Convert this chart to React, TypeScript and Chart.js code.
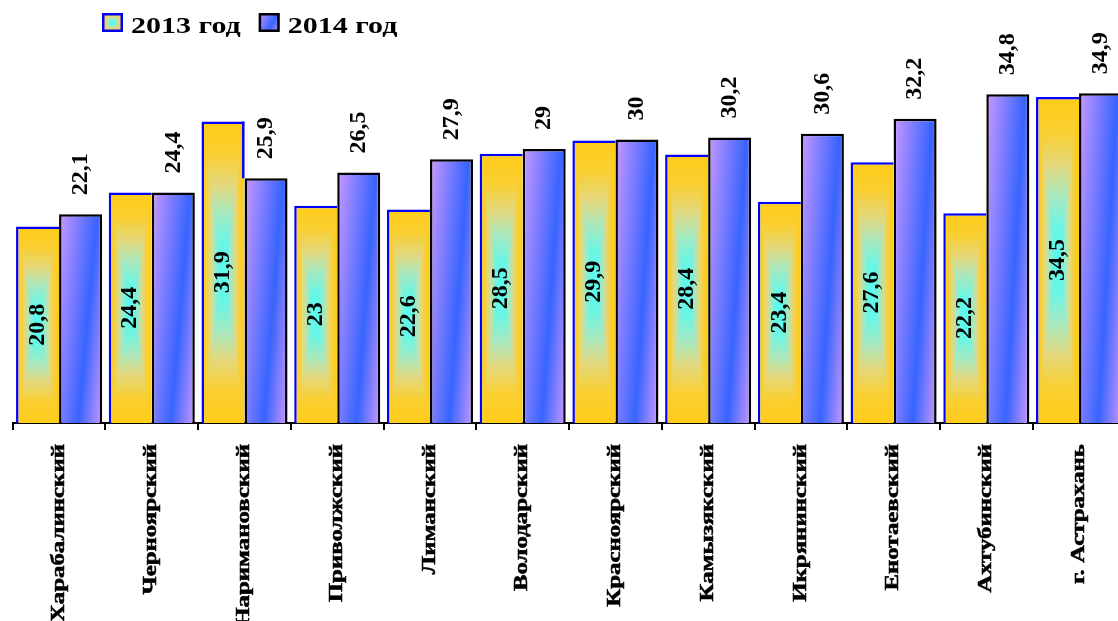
import { useEffect, useRef } from 'react';
import { Chart, registerables } from 'chart.js';

Chart.register(...registerables);

const categories = [
  'Харабалинский',
  'Черноярский',
  'Наримановский',
  'Приволжский',
  'Лиманский',
  'Володарский',
  'Красноярский',
  'Камызякский',
  'Икрянинский',
  'Енотаевский',
  'Ахтубинский',
  'г. Астрахань',
];
const values2013 = [20.8, 24.4, 31.9, 23, 22.6, 28.5, 29.9, 28.4, 23.4, 27.6, 22.2, 34.5];
const values2014 = [22.1, 24.4, 25.9, 26.5, 27.9, 29, 30, 30.2, 30.6, 32.2, 34.8, 34.9];
const seriesNames = ['2013 год', '2014 год'];

const FAMILY = "'Liberation Serif', 'Times New Roman', serif";
const CAT_PCT = 0.928;
const BORDER_2013 = '#0000FF';

type RGB = [number, number, number];
const STOPS_2013: Array<[number, RGB]> = [
  [0, [90, 250, 240]],
  [0.2, [105, 246, 230]],
  [0.4, [170, 232, 190]],
  [0.58, [228, 216, 125]],
  [0.78, [250, 207, 50]],
  [1, [255, 204, 25]],
];
const PURPLE = 'rgb(202,152,255)';
const BLUE = 'rgb(55,100,255)';

function interp(t: number): RGB {
  for (let i = 1; i < STOPS_2013.length; i++) {
    const [t1, c1] = STOPS_2013[i];
    const [t0, c0] = STOPS_2013[i - 1];
    if (t <= t1) {
      const f = (t - t0) / (t1 - t0 || 1);
      return [c0[0] + (c1[0] - c0[0]) * f, c0[1] + (c1[1] - c0[1]) * f, c0[2] + (c1[2] - c0[2]) * f];
    }
  }
  return STOPS_2013[STOPS_2013.length - 1][1];
}

const rectCache: Record<string, HTMLCanvasElement> = {};
function rectGradient(w: number, h: number): HTMLCanvasElement {
  const W = Math.max(2, Math.round(w));
  const H = Math.max(2, Math.round(h));
  const key = W + 'x' + H;
  if (rectCache[key]) return rectCache[key];
  const c = document.createElement('canvas');
  c.width = W;
  c.height = H;
  const g = c.getContext('2d')!;
  const img = g.createImageData(W, H);
  for (let y = 0; y < H; y++) {
    for (let x = 0; x < W; x++) {
      const nx = Math.abs(x + 0.5 - W / 2) / (W / 2);
      const ny = Math.abs(y + 0.5 - H / 2) / (H / 2);
      const col = interp(Math.max(nx, ny));
      const k = (y * W + x) * 4;
      img.data[k] = col[0];
      img.data[k + 1] = col[1];
      img.data[k + 2] = col[2];
      img.data[k + 3] = 255;
    }
  }
  g.putImageData(img, 0, 0);
  rectCache[key] = c;
  return c;
}

function rectPattern(ctx: CanvasRenderingContext2D, left: number, top: number, w: number, h: number) {
  const src = rectGradient(w, h);
  const pat = ctx.createPattern(src, 'repeat')!;
  pat.setTransform(new DOMMatrix([w / src.width, 0, 0, h / src.height, left, top]));
  return pat;
}

function slantGradient(ctx: CanvasRenderingContext2D, left: number, top: number, w: number, h: number) {
  // isoline of blue runs from (0.9w, top) to (0.45w, bottom)
  const gx = 1 / w / 1.45;
  const gy = 0.45 / h / 1.45;
  const n2 = gx * gx + gy * gy;
  const grad = ctx.createLinearGradient(left, top, left + gx / n2, top + gy / n2);
  grad.addColorStop(0, PURPLE);
  grad.addColorStop(0.62, BLUE);
  grad.addColorStop(1, PURPLE);
  return grad;
}

function barGeom(c: any, which: number) {
  const chart = c.chart;
  const xs = chart.scales.x;
  const ys = chart.scales.y;
  if (!xs || !ys || !chart.chartArea || c.type !== 'data') return null;
  const cx = xs.getPixelForValue(c.dataIndex);
  const catW = xs.getPixelForValue(1) - xs.getPixelForValue(0);
  const w = (catW * CAT_PCT) / 2;
  const left = which === 0 ? cx - w : cx;
  const top = ys.getPixelForValue(c.raw);
  const base = ys.getPixelForValue(0);
  if (!isFinite(top) || !isFinite(base) || !isFinite(w) || w < 2 || base - top < 1) return null;
  return { left, top, w, h: base - top };
}

const fmt = (v: number) => String(v).replace('.', ',');

function drawRot(
  ctx: CanvasRenderingContext2D,
  text: string,
  x: number,
  y: number,
  align: CanvasTextAlign,
  font: string,
  stretch: number,
  thicken = 0
) {
  ctx.save();
  ctx.translate(x, y);
  ctx.rotate(-Math.PI / 2);
  ctx.scale(stretch, 1);
  ctx.font = font;
  ctx.fillStyle = '#000';
  ctx.textAlign = align;
  ctx.textBaseline = 'middle';
  ctx.fillText(text, 0, 0);
  if (thicken > 0) {
    ctx.lineWidth = thicken;
    ctx.strokeStyle = '#000';
    ctx.strokeText(text, 0, 0);
  }
  ctx.restore();
}

const labelPlugin = {
  id: 'customLabels',
  afterDatasetsDraw(chart: any) {
    const ctx: CanvasRenderingContext2D = chart.ctx;
    const valFont = `bold 24px ${FAMILY}`;
    const m0 = chart.getDatasetMeta(0);
    const m1 = chart.getDatasetMeta(1);
    // exposed right edge of 2013 bars (above the neighbouring 2014 bar)
    m0.data.forEach((el: any, i: number) => {
      const other = m1.data[i];
      if (other && el.y < other.y) {
        ctx.save();
        ctx.strokeStyle = BORDER_2013;
        ctx.lineWidth = 2.5;
        const xr = el.x + el.width / 2 - 1.25;
        ctx.beginPath();
        ctx.moveTo(xr, el.y);
        ctx.lineTo(xr, other.y);
        ctx.stroke();
        ctx.restore();
      }
    });
    m0.data.forEach((el: any, i: number) => {
      drawRot(ctx, fmt(values2013[i]), el.x, (el.y + el.base) / 2, 'center', valFont, 1);
    });
    m1.data.forEach((el: any, i: number) => {
      drawRot(ctx, fmt(values2014[i]), el.x, el.y - 19, 'left', valFont, 1);
    });
  },
  afterDraw(chart: any) {
    const ctx: CanvasRenderingContext2D = chart.ctx;
    const xs = chart.scales.x;
    const area = chart.chartArea;
    const xFont = `bold 18px ${FAMILY}`;
    categories.forEach((name, i) => {
      drawRot(ctx, name, xs.getPixelForValue(i), area.bottom + 21, 'right', xFont, 1.38, 0.5);
    });

    // legend
    const legFont = `bold 24px ${FAMILY}`;
    const stretch = 1.25;
    let x = 102;
    const boxY = 13;
    const boxW = 21;
    const boxH = 19;
    seriesNames.forEach((name, k) => {
      ctx.save();
      ctx.fillStyle = k === 0 ? rectPattern(ctx, x, boxY, boxW, boxH) : slantGradient(ctx, x, boxY, boxW, boxH);
      ctx.fillRect(x, boxY, boxW, boxH);
      ctx.lineWidth = 2.5;
      ctx.strokeStyle = k === 0 ? BORDER_2013 : '#000';
      ctx.strokeRect(x + 1.25, boxY + 1.25, boxW - 2.5, boxH - 2.5);
      ctx.restore();
      const tx = x + boxW + 8;
      ctx.save();
      ctx.translate(tx, 33);
      ctx.scale(stretch, 1);
      ctx.font = legFont;
      ctx.fillStyle = '#000';
      ctx.textAlign = 'left';
      ctx.textBaseline = 'alphabetic';
      ctx.fillText(name, 0, 0);
      const tw = ctx.measureText(name).width * stretch;
      ctx.restore();
      x = tx + tw + 18;
    });
  },
};

export default function App() {
  const ref = useRef<HTMLCanvasElement | null>(null);
  useEffect(() => {
    if (!ref.current) return;
    const chart = new Chart(ref.current, {
      type: 'bar',
      data: {
        labels: categories,
        datasets: [
          {
            label: seriesNames[0],
            data: values2013,
            backgroundColor: (c: any) => {
              const g = barGeom(c, 0);
              if (!g) return '#F2D24A';
              return rectPattern(c.chart.ctx, g.left, g.top, g.w, g.h);
            },
            borderColor: BORDER_2013,
            borderWidth: { top: 2.5, left: 2.5, right: 0, bottom: 0 },
            borderSkipped: 'start',
            categoryPercentage: CAT_PCT,
            barPercentage: 1,
          },
          {
            label: seriesNames[1],
            data: values2014,
            backgroundColor: (c: any) => {
              const g = barGeom(c, 1);
              if (!g) return BLUE;
              return slantGradient(c.chart.ctx, g.left, g.top, g.w, g.h);
            },
            borderColor: '#000000',
            borderWidth: 2.5,
            borderSkipped: 'start',
            categoryPercentage: CAT_PCT,
            barPercentage: 1,
          },
        ],
      } as any,
      options: {
        animation: false,
        responsive: true,
        maintainAspectRatio: false,
        events: [],
        layout: { padding: { left: 12.7, right: 0.6, top: 45, bottom: 0 } },
        plugins: { legend: { display: false }, tooltip: { enabled: false } },
        scales: {
          x: {
            display: true,
            offset: true,
            grid: {
              display: true,
              offset: true,
              drawOnChartArea: false,
              drawTicks: true,
              tickLength: 7,
              color: '#000',
              lineWidth: 2,
            },
            border: { display: true, color: '#000', width: 2 },
            ticks: { display: false },
            afterFit: (s: any) => {
              s.height = 198;
            },
          },
          y: { display: false, min: 0, max: 40 },
        },
      } as any,
      plugins: [labelPlugin],
    });
    return () => chart.destroy();
  }, []);
  return (
    <div
      style={{
        position: 'fixed',
        left: 0,
        top: 0,
        width: 1118,
        height: 621,
        overflow: 'hidden',
        background: '#fff',
      }}
    >
      <div style={{ position: 'relative', width: 1126, height: 621 }}>
        <canvas ref={ref} />
      </div>
    </div>
  );
}
